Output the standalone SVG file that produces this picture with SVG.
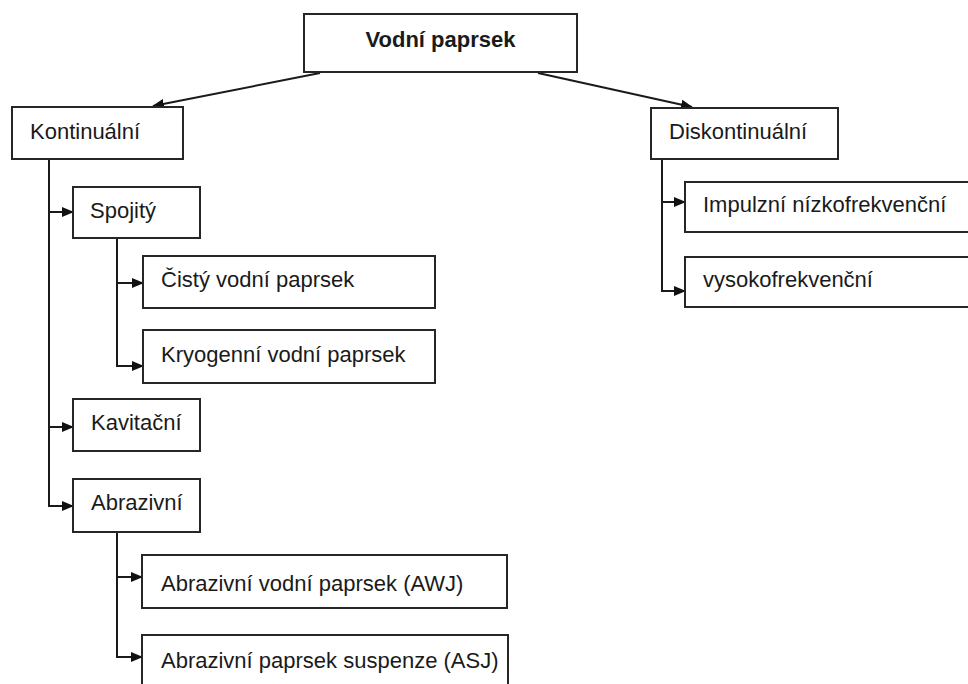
<svg xmlns="http://www.w3.org/2000/svg" width="968" height="684" viewBox="0 0 968 684">
<style>
.box{fill:#fff;stroke:#262626;stroke-width:2}
.t{font-family:"Liberation Sans",Arial,sans-serif;font-size:22px;fill:#1a1a1a}
.b{font-weight:bold;text-anchor:middle}
.c{fill:none;stroke:#1a1a1a;stroke-width:2}
</style>
<defs>
<marker id="ah" markerUnits="userSpaceOnUse" markerWidth="12" markerHeight="10" refX="11" refY="5" orient="auto">
<path d="M0,0 L12,5 L0,10 z" fill="#111"/>
</marker>
</defs>
<rect width="968" height="684" fill="#fff"/>
<g id="connectors">
<line class="c" x1="320" y1="73" x2="153" y2="106" marker-end="url(#ah)"/>
<line class="c" x1="538" y1="73" x2="692" y2="107" marker-end="url(#ah)"/>
<path class="c" d="M49,159 V506 H73" marker-end="url(#ah)"/>
<path class="c" d="M49,212 H73" marker-end="url(#ah)"/>
<path class="c" d="M49,427 H73" marker-end="url(#ah)"/>
<path class="c" d="M117,238 V366 H143" marker-end="url(#ah)"/>
<path class="c" d="M117,283 H143" marker-end="url(#ah)"/>
<path class="c" d="M117,532 V657 H142" marker-end="url(#ah)"/>
<path class="c" d="M117,577 H142" marker-end="url(#ah)"/>
<path class="c" d="M662,159 V291 H685" marker-end="url(#ah)"/>
<path class="c" d="M662,202 H685" marker-end="url(#ah)"/>
</g>
<g id="vodni-paprsek"><rect class="box" x="304" y="14" width="273" height="58"/><text class="t b" x="440.5" y="47">Vodní paprsek</text></g>
<g id="kontinualni"><rect class="box" x="12" y="107" width="171" height="52"/><text class="t" x="30" y="139">Kontinuální</text></g>
<g id="spojity"><rect class="box" x="73" y="187" width="127" height="51"/><text class="t" x="90" y="218">Spojitý</text></g>
<g id="cisty"><rect class="box" x="143" y="256" width="292" height="52"/><text class="t" x="161" y="287">Čistý vodní paprsek</text></g>
<g id="kryogenni"><rect class="box" x="143" y="330" width="292" height="53"/><text class="t" x="161" y="362">Kryogenní vodní paprsek</text></g>
<g id="kavitacni"><rect class="box" x="73" y="399" width="127" height="52"/><text class="t" x="91" y="430">Kavitační</text></g>
<g id="abrazivni"><rect class="box" x="73" y="479" width="127" height="53"/><text class="t" x="91" y="510">Abrazivní</text></g>
<g id="awj"><rect class="box" x="142" y="555" width="365" height="53"/><text class="t" x="161" y="591">Abrazivní vodní paprsek (AWJ)</text></g>
<g id="asj"><rect class="box" x="142" y="635" width="366" height="60"/><text class="t" x="161" y="668">Abrazivní paprsek suspenze (ASJ)</text></g>
<g id="diskontinualni"><rect class="box" x="651" y="108" width="187" height="51"/><text class="t" x="669" y="139">Diskontinuální</text></g>
<g id="impulzni"><rect class="box" x="685" y="182" width="290" height="50"/><text class="t" x="703" y="212">Impulzní nízkofrekvenční</text></g>
<g id="vysokofrekvencni"><rect class="box" x="685" y="257" width="290" height="50"/><text class="t" x="703" y="287">vysokofrekvenční</text></g>
</svg>
